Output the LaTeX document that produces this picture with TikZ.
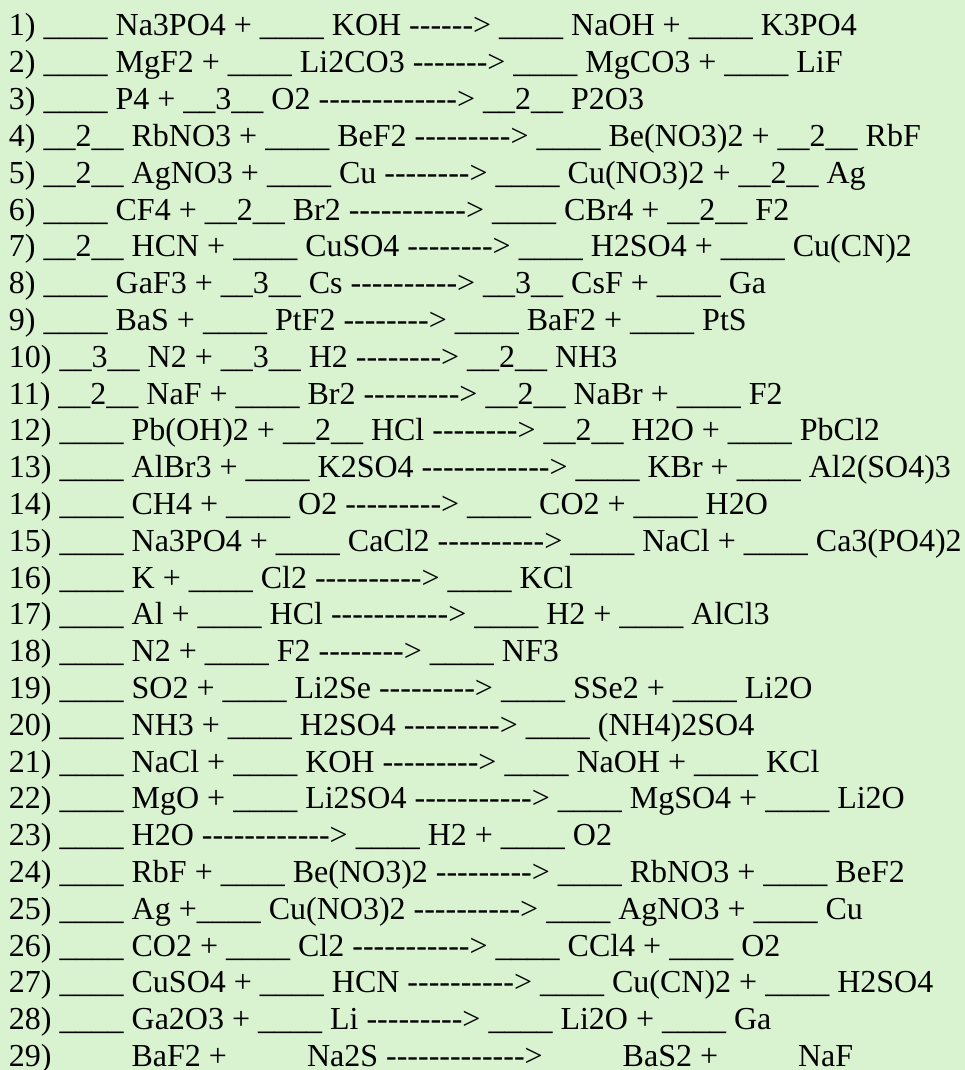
\documentclass[tikz,border=0pt]{standalone}
\usepackage{fontspec}
\setmainfont{Liberation Serif}[Ligatures=TeXOff]
\definecolor{bg}{RGB}{217,242,208}
\tikzset{eqline/.style={anchor=base west, inner sep=0pt, outer sep=0pt, font=\fontsize{32}{37}\selectfont, text=black}}
\newcommand{\blk}{\_\_\_\_}
\newcommand{\blank}{\phantom{\_\_\_\_}}
\begin{document}
\begin{tikzpicture}[x=1pt,y=1pt]
\fill[bg] (0,0) rectangle (965,-1070);
\useasboundingbox (0,0) rectangle (965,-1070);
\def\ls{36.8}
\node[eqline] (l1) at (9,-36) {1) \blk{} Na3PO4 + \blk{} KOH ------> \blk{} NaOH + \blk{} K3PO4};
\node[eqline] (l2) at (9,{-36-1*\ls}) {2) \blk{} MgF2 + \blk{} Li2CO3 -------> \blk{} MgCO3 + \blk{} LiF};
\node[eqline] (l3) at (9,{-36-2*\ls}) {3) \blk{} P4 + \_\_3\_\_ O2 -------------> \_\_2\_\_ P2O3};
\node[eqline] (l4) at (9,{-36-3*\ls}) {4) \_\_2\_\_ RbNO3 + \blk{} BeF2 ---------> \blk{} Be(NO3)2 + \_\_2\_\_ RbF};
\node[eqline] (l5) at (9,{-36-4*\ls}) {5) \_\_2\_\_ AgNO3 + \blk{} Cu --------> \blk{} Cu(NO3)2 + \_\_2\_\_ Ag};
\node[eqline] (l6) at (9,{-36-5*\ls}) {6) \blk{} CF4 + \_\_2\_\_ Br2 -----------> \blk{} CBr4 + \_\_2\_\_ F2};
\node[eqline] (l7) at (9,{-36-6*\ls}) {7) \_\_2\_\_ HCN + \blk{} CuSO4 --------> \blk{} H2SO4 + \blk{} Cu(CN)2};
\node[eqline] (l8) at (9,{-36-7*\ls}) {8) \blk{} GaF3 + \_\_3\_\_ Cs ----------> \_\_3\_\_ CsF + \blk{} Ga};
\node[eqline] (l9) at (9,{-36-8*\ls}) {9) \blk{} BaS + \blk{} PtF2 --------> \blk{} BaF2 + \blk{} PtS};
\node[eqline] (l10) at (9,{-36-9*\ls}) {10) \_\_3\_\_ N2 + \_\_3\_\_ H2 --------> \_\_2\_\_ NH3};
\node[eqline] (l11) at (9,{-36-10*\ls}) {11) \_\_2\_\_ NaF + \blk{} Br2 ---------> \_\_2\_\_ NaBr + \blk{} F2};
\node[eqline] (l12) at (9,{-36-11*\ls}) {12) \blk{} Pb(OH)2 + \_\_2\_\_ HCl --------> \_\_2\_\_ H2O + \blk{} PbCl2};
\node[eqline] (l13) at (9,{-36-12*\ls}) {13) \blk{} AlBr3 + \blk{} K2SO4 ------------> \blk{} KBr + \blk{} Al2(SO4)3};
\node[eqline] (l14) at (9,{-36-13*\ls}) {14) \blk{} CH4 + \blk{} O2 ---------> \blk{} CO2 + \blk{} H2O};
\node[eqline] (l15) at (9,{-36-14*\ls}) {15) \blk{} Na3PO4 + \blk{} CaCl2 ----------> \blk{} NaCl + \blk{} Ca3(PO4)2};
\node[eqline] (l16) at (9,{-36-15*\ls}) {16) \blk{} K + \blk{} Cl2 ----------> \blk{} KCl};
\node[eqline] (l17) at (9,{-36-16*\ls}) {17) \blk{} Al + \blk{} HCl -----------> \blk{} H2 + \blk{} AlCl3};
\node[eqline] (l18) at (9,{-36-17*\ls}) {18) \blk{} N2 + \blk{} F2 --------> \blk{} NF3};
\node[eqline] (l19) at (9,{-36-18*\ls}) {19) \blk{} SO2 + \blk{} Li2Se ---------> \blk{} SSe2 + \blk{} Li2O};
\node[eqline] (l20) at (9,{-36-19*\ls}) {20) \blk{} NH3 + \blk{} H2SO4 ---------> \blk{} (NH4)2SO4};
\node[eqline] (l21) at (9,{-36-20*\ls}) {21) \blk{} NaCl + \blk{} KOH ---------> \blk{} NaOH + \blk{} KCl};
\node[eqline] (l22) at (9,{-36-21*\ls}) {22) \blk{} MgO + \blk{} Li2SO4 -----------> \blk{} MgSO4 + \blk{} Li2O};
\node[eqline] (l23) at (9,{-36-22*\ls}) {23) \blk{} H2O ------------> \blk{} H2 + \blk{} O2};
\node[eqline] (l24) at (9,{-36-23*\ls}) {24) \blk{} RbF + \blk{} Be(NO3)2 ---------> \blk{} RbNO3 + \blk{} BeF2};
\node[eqline] (l25) at (9,{-36-24*\ls}) {25) \blk{} Ag +\blk{} Cu(NO3)2 ----------> \blk{} AgNO3 + \blk{} Cu};
\node[eqline] (l26) at (9,{-36-25*\ls}) {26) \blk{} CO2 + \blk{} Cl2 -----------> \blk{} CCl4 + \blk{} O2};
\node[eqline] (l27) at (9,{-36-26*\ls}) {27) \blk{} CuSO4 + \blk{} HCN ----------> \blk{} Cu(CN)2 + \blk{} H2SO4};
\node[eqline] (l28) at (9,{-36-27*\ls}) {28) \blk{} Ga2O3 + \blk{} Li ---------> \blk{} Li2O + \blk{} Ga};
\node[eqline] (l29) at (9,{-36-28*\ls}) {29) \blank{} BaF2 + \blank{} Na2S -------------> \blank{} BaS2 + \blank{} NaF};
\end{tikzpicture}
\end{document}
